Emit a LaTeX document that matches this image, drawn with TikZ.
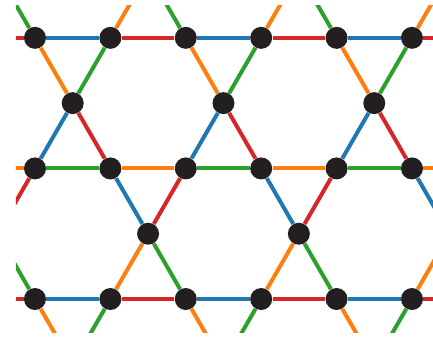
\documentclass[tikz,border=0pt]{standalone}
\usetikzlibrary{positioning}
\definecolor{kblue}{HTML}{1F77B4}
\definecolor{korange}{HTML}{FF7F0E}
\definecolor{kgreen}{HTML}{2CA02C}
\definecolor{kred}{HTML}{D62728}
\definecolor{kdark}{HTML}{231F20}

\begin{document}
\begin{tikzpicture}[x=1.508cm,y=1.508cm]
\tikzset{
  site/.style={circle,fill=kdark,minimum size=4.4mm,inner sep=0pt},
  bond/.style={line width=0.8mm},
  bondblue/.style={bond,kblue},
  bondorange/.style={bond,korange},
  bondgreen/.style={bond,kgreen},
  bondred/.style={bond,kred}
}
\useasboundingbox (-0.464,-0.531) rectangle (5.279,3.966);
\clip (-0.252,-0.438) rectangle (5.279,3.899);
\node[site] (n_b0) at (0,0) {};
\node[site] (n_b1) at (1,0) {};
\node[site] (n_b2) at (2,0) {};
\node[site] (n_b3) at (3,0) {};
\node[site] (n_b4) at (4,0) {};
\node[site] (n_b5) at (5,0) {};
\node[site] (n_l1) at (1.5,0.866) {};
\node[site] (n_l3) at (3.5,0.866) {};
\node[site] (n_m0) at (0,1.732) {};
\node[site] (n_m1) at (1,1.732) {};
\node[site] (n_m2) at (2,1.732) {};
\node[site] (n_m3) at (3,1.732) {};
\node[site] (n_m4) at (4,1.732) {};
\node[site] (n_m5) at (5,1.732) {};
\node[site] (n_u0) at (0.5,2.598) {};
\node[site] (n_u2) at (2.5,2.598) {};
\node[site] (n_u4) at (4.5,2.598) {};
\node[site] (n_t0) at (0,3.464) {};
\node[site] (n_t1) at (1,3.464) {};
\node[site] (n_t2) at (2,3.464) {};
\node[site] (n_t3) at (3,3.464) {};
\node[site] (n_t4) at (4,3.464) {};
\node[site] (n_t5) at (5,3.464) {};
\coordinate (c_bw) at (-1,0);
\coordinate (c_be) at (6,0);
\coordinate (c_mw) at (-1,1.732);
\coordinate (c_me) at (6,1.732);
\coordinate (c_tw) at (-1,3.464);
\coordinate (c_te) at (6,3.464);
\coordinate (c_lw) at (-0.5,0.866);
\coordinate (c_le) at (5.5,0.866);
\coordinate (c_x0) at (-0.5,4.330);
\coordinate (c_x1) at (1.5,4.330);
\coordinate (c_x3) at (3.5,4.330);
\coordinate (c_x5) at (5.5,4.330);
\coordinate (c_y0) at (0.5,-0.866);
\coordinate (c_y2) at (2.5,-0.866);
\coordinate (c_y4) at (4.5,-0.866);
\draw[bondred] (c_bw) -- (n_b0);
\draw[bondblue] (n_b0) -- (n_b1);
\draw[bondred] (n_b1) -- (n_b2);
\draw[bondblue] (n_b2) -- (n_b3);
\draw[bondred] (n_b3) -- (n_b4);
\draw[bondblue] (n_b4) -- (n_b5);
\draw[bondred] (n_b5) -- (c_be);
\draw[bondorange] (c_mw) -- (n_m0);
\draw[bondgreen] (n_m0) -- (n_m1);
\draw[bondorange] (n_m1) -- (n_m2);
\draw[bondgreen] (n_m2) -- (n_m3);
\draw[bondorange] (n_m3) -- (n_m4);
\draw[bondgreen] (n_m4) -- (n_m5);
\draw[bondorange] (n_m5) -- (c_me);
\draw[bondred] (c_tw) -- (n_t0);
\draw[bondblue] (n_t0) -- (n_t1);
\draw[bondred] (n_t1) -- (n_t2);
\draw[bondblue] (n_t2) -- (n_t3);
\draw[bondred] (n_t3) -- (n_t4);
\draw[bondblue] (n_t4) -- (n_t5);
\draw[bondred] (n_t5) -- (c_te);
\draw[bondorange] (n_u0) -- (n_t0);
\draw[bondgreen] (n_u0) -- (n_t1);
\draw[bondblue] (n_u0) -- (n_m0);
\draw[bondred] (n_u0) -- (n_m1);
\draw[bondorange] (n_u2) -- (n_t2);
\draw[bondgreen] (n_u2) -- (n_t3);
\draw[bondblue] (n_u2) -- (n_m2);
\draw[bondred] (n_u2) -- (n_m3);
\draw[bondorange] (n_u4) -- (n_t4);
\draw[bondgreen] (n_u4) -- (n_t5);
\draw[bondblue] (n_u4) -- (n_m4);
\draw[bondred] (n_u4) -- (n_m5);
\draw[bondblue] (n_l1) -- (n_m1);
\draw[bondred] (n_l1) -- (n_m2);
\draw[bondorange] (n_l1) -- (n_b1);
\draw[bondgreen] (n_l1) -- (n_b2);
\draw[bondblue] (n_l3) -- (n_m3);
\draw[bondred] (n_l3) -- (n_m4);
\draw[bondorange] (n_l3) -- (n_b3);
\draw[bondgreen] (n_l3) -- (n_b4);
\draw[bondred] (c_lw) -- (n_m0);
\draw[bondgreen] (c_lw) -- (n_b0);
\draw[bondblue] (c_le) -- (n_m5);
\draw[bondorange] (c_le) -- (n_b5);
\draw[bondgreen] (c_x0) -- (n_t0);
\draw[bondorange] (c_x1) -- (n_t1);
\draw[bondgreen] (c_x1) -- (n_t2);
\draw[bondorange] (c_x3) -- (n_t3);
\draw[bondgreen] (c_x3) -- (n_t4);
\draw[bondorange] (c_x5) -- (n_t5);
\draw[bondorange] (c_y0) -- (n_b0);
\draw[bondgreen] (c_y0) -- (n_b1);
\draw[bondorange] (c_y2) -- (n_b2);
\draw[bondgreen] (c_y2) -- (n_b3);
\draw[bondorange] (c_y4) -- (n_b4);
\draw[bondgreen] (c_y4) -- (n_b5);
\end{tikzpicture}
\end{document}
